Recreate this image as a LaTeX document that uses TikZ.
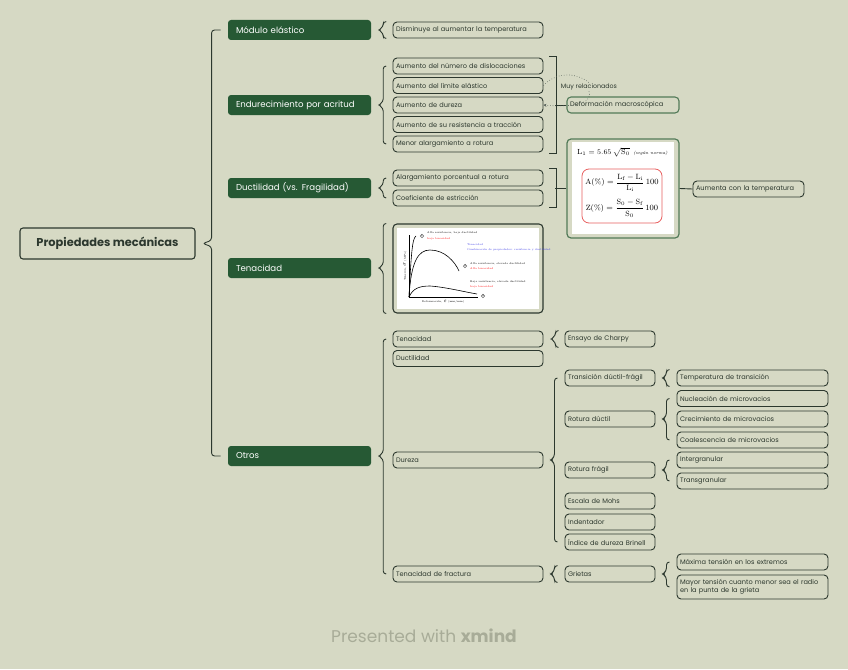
\documentclass[tikz,border=0pt]{standalone}
\usepackage{amsmath}
\usepackage{fontspec}
\newfontfamily\mmfont{Poppins}
\usepackage{tikz}
\usetikzlibrary{arrows.meta, positioning, calc}
\usepackage{xcolor}
\definecolor{bgsage}{RGB}{214,217,196}
\definecolor{topicgreen}{RGB}{38,89,52}
\definecolor{inkdark}{RGB}{44,56,46}
\definecolor{relgreen}{RGB}{82,122,88}
\definecolor{footgrey}{RGB}{168,172,152}
\definecolor{formred}{RGB}{232,96,96}
\definecolor{plotblue}{RGB}{60,60,230}

\tikzset{
  rootbox/.style={draw=inkdark, line width=1.1pt, rounded corners=3pt, fill=bgsage,
    minimum width=175pt, minimum height=31pt, text=inkdark,
    font=\mmfont\fontsize{11.4}{13}\selectfont\bfseries},
  topicbox/.style={fill=topicgreen, rounded corners=3pt, minimum height=20pt,
    text width=127pt, inner xsep=8pt, align=left, text=white,
    font=\mmfont\fontsize{8.6}{10}\selectfont},
  leafbox/.style={draw=inkdark, line width=0.9pt, rounded corners=4pt, fill=bgsage,
    minimum height=16pt, inner xsep=3pt, inner ysep=1.5pt, text width=#1,
    align=left, text=inkdark, font=\mmfont\fontsize{6.6}{8.2}\selectfont},
  leafbox/.default=144pt,
  brline/.style={draw=inkdark, line width=0.9pt, rounded corners=3pt},
  reldot/.style={draw=inkdark!80, line width=0.6pt, dotted},
  tinytext/.style={font=\fontsize{2.6}{3}\selectfont, inner sep=0pt, anchor=west},
}

% llave: padre, punto superior, punto inferior, ancho, remate
\newcommand{\mmbrace}[5]{%
  \draw[brline] let \p1=(#1.east), \p2=(#2), \p3=(#3) in
    (\x1+7pt+#4+#5,\y2) -- (\x1+7pt+#4,\y2) -- (\x1+7pt+#4,\y1+3pt)
    -- (\x1+7pt,\y1) -- (\x1+7pt+#4,\y1-3pt) -- (\x1+7pt+#4,\y3)
    -- (\x1+7pt+#4+#5,\y3);}
% corchete de resumen: primero, ultimo, destino
\newcommand{\mmsummary}[3]{%
  \draw[brline, rounded corners=0pt] let \p1=(#1.north east), \p2=(#2.south east) in
    (\x1+6pt,\y1+1pt) -- (\x1+13pt,\y1+1pt) -- (\x1+13pt,\y2-1pt) -- (\x1+6pt,\y2-1pt);
  \draw[brline] (#3.west) -- ++(-11,0);}

\begin{document}
\begin{tikzpicture}[x=1pt, y=-1pt, >=Stealth]
        % --- Fondo ---
        \fill[bgsage] (0,0) rectangle (848,669);

        % --- Raiz y ramas principales ---
        \node[rootbox] (root) at (107.5,243.5) {Propiedades mecánicas};
        \node[topicbox] (mod) at (299.5,30) {Módulo elástico};
        \node[topicbox] (endu) at (299.5,105) {Endurecimiento por acritud};
        \node[topicbox] (duct) at (299.5,188) {Ductilidad (vs. Fragilidad)};
        \node[topicbox] (tena) at (299.5,268) {Tenacidad};
        \node[topicbox] (otros) at (299.5,456) {Otros};
        \mmbrace{root}{mod.west}{otros.west}{9pt}{9pt}

        % Modulo elastico
        \node[leafbox] (dism) at (468,30) {Disminuye al aumentar la temperatura};
        \mmbrace{mod}{dism.north west}{dism.south west}{5pt}{3pt}

        % Endurecimiento
        \node[leafbox] (disl) at (468,66) {Aumento del número de dislocaciones};
        \node[leafbox] (lim) at (468,85.5) {Aumento del límite elástico};
        \node[leafbox] (dur) at (468,105) {Aumento de dureza};
        \node[leafbox] (res) at (468,124.5) {Aumento de su resistencia a tracción};
        \node[leafbox] (alar) at (468,144) {Menor alargamiento a rotura};
        \mmbrace{endu}{disl.west}{alar.west}{5pt}{3pt}
        \node[leafbox=106pt, draw=relgreen, line width=1.1pt] (defo) at (623,105)
            {Deformación macroscópica};
        \mmsummary{disl}{alar}{defo}

        % relacion entre limite elastico y dureza
        \node[font=\mmfont\fontsize{6.3}{7}\selectfont, text=inkdark, inner sep=1pt]
            (muy) at (589,87) {Muy relacionados};
        \draw[reldot] (lim.east) .. controls (556,72) and (576,72) .. (muy.north);
        \draw[reldot, -{Stealth[length=3pt,width=3pt]}] (muy.south)
            .. controls (594,106) and (565,107) .. (dur.east);

        % Ductilidad
        \node[leafbox] (apr) at (468,178) {Alargamiento porcentual a rotura};
        \node[leafbox] (coef) at (468,198) {Coeficiente de estricción};
        \mmbrace{duct}{apr.west}{coef.west}{5pt}{3pt}
        \node[draw=relgreen, line width=1.2pt, rounded corners=4pt, fill=bgsage,
            minimum width=112pt, minimum height=99pt] (form) at (623,188.5) {};
        \mmsummary{apr}{coef}{form}
        \fill[white] (572,142) rectangle (674,234);
        \draw[formred, line width=0.8pt, rounded corners=7pt] (582,169) rectangle (662,223);
        \node[anchor=west, font=\fontsize{7.4}{8}\selectfont, inner sep=0pt] at (577,152)
            {$\mathrm{L_1}=5.65\,\sqrt{\mathrm{S_0}}$\enspace
             {\fontsize{4.5}{5}\selectfont\itshape (según norma)}};
        \node[font=\fontsize{7.6}{8}\selectfont, inner sep=0pt] at (622,183)
            {$\mathrm{A}(\%)=\dfrac{\mathrm{L_f}-\mathrm{L_i}}{\mathrm{L_i}}\,100$};
        \node[font=\fontsize{7.6}{8}\selectfont, inner sep=0pt] at (622,208.5)
            {$\mathrm{Z}(\%)=\dfrac{\mathrm{S_0}-\mathrm{S_f}}{\mathrm{S_0}}\,100$};
        \node[leafbox=105pt] (aum) at (748.5,189) {Aumenta con la temperatura};
        \draw[brline] (form.east) -- (aum.west);

        % --- Tenacidad: curva tension-deformacion ---
        \node[draw=inkdark, line width=1.1pt, rounded corners=4pt, fill=bgsage,
            minimum width=150pt, minimum height=89pt] (img) at (468,268.5) {};
        \mmbrace{tena}{img.north west}{img.south west}{5pt}{3pt}
        \fill[white] (397,228) rectangle (539,309);
        \draw[line width=0.5pt] (409,235) -- (409,297) -- (478,297);
        \draw[line width=0.6pt] (409,297) .. controls (411,258) and (412,238) .. (416,236);
        \draw[line width=0.6pt] (409,297) .. controls (411,262) and (418,250) .. (430,250)
            .. controls (445,250) and (455,262) .. (459,271);
        \draw[line width=0.6pt] (409,297) .. controls (413,288) and (420,286) .. (430,286)
            .. controls (445,287) and (465,292) .. (477,294);
        \foreach \n/\p in {1/{(422,236)}, 2/{(465,266)}, 3/{(483,296)}}
            \node[circle, draw=black!60, fill=black!12, line width=0.3pt, inner sep=0.4pt,
                font=\fontsize{2.6}{3}\selectfont] at \p {\n};
        \node[tinytext] at (427,233) {Alta resistencia, baja ductilidad};
        \node[tinytext, red] at (427,238.5) {baja tenacidad};
        \node[tinytext, plotblue] at (467,244.5) {Tenacidad};
        \node[tinytext, plotblue] at (467,249.5)
            {Combinación de propiedades: resistencia y ductilidad};
        \node[tinytext] at (470,264) {Alta resistencia, elevada ductilidad};
        \node[tinytext, red] at (470,269) {Alta tenacidad};
        \node[tinytext] at (470,282) {Baja resistencia, elevada ductilidad};
        \node[tinytext, red] at (470,287) {baja tenacidad};
        \node[tinytext, anchor=center, rotate=90] at (405,266) {Tensión, $\sigma$ (MPa)};
        \node[tinytext, anchor=center] at (443,302) {Deformación, $\varepsilon$ (mm/mm)};

        % --- Otros ---
        \node[leafbox] (oten) at (468,339) {Tenacidad};
        \node[leafbox] (oduc) at (468,358.5) {Ductilidad};
        \node[leafbox] (odur) at (468,460) {Dureza};
        \node[leafbox] (ofrac) at (468,574) {Tenacidad de fractura};
        \mmbrace{otros}{oten.west}{ofrac.west}{5pt}{3pt}

        \node[leafbox=84pt] (charpy) at (610,339) {Ensayo de Charpy};
        \mmbrace{oten}{charpy.north west}{charpy.south west}{5pt}{3pt}

        % Dureza
        \node[leafbox=84pt] (trans) at (610,378) {Transición dúctil-frágil};
        \node[leafbox=84pt] (rduc) at (610,419) {Rotura dúctil};
        \node[leafbox=84pt] (rfra) at (610,470) {Rotura frágil};
        \node[leafbox=84pt] (mohs) at (610,501) {Escala de Mohs};
        \node[leafbox=84pt] (indent) at (610,522) {Indentador};
        \node[leafbox=84pt] (brin) at (610,542) {Índice de dureza Brinell};
        \mmbrace{odur}{trans.west}{brin.west}{4pt}{3pt}

        \node[leafbox=145pt] (ttrans) at (752.5,378) {Temperatura de transición};
        \mmbrace{trans}{ttrans.north west}{ttrans.south west}{4pt}{3pt}
        \node[leafbox=145pt] (nucl) at (752.5,398.5) {Nucleación de microvacios};
        \node[leafbox=145pt] (crec) at (752.5,419) {Crecimiento de microvacios};
        \node[leafbox=145pt] (coal) at (752.5,440) {Coalescencia de microvacios};
        \mmbrace{rduc}{nucl.west}{coal.west}{4pt}{3pt}
        \node[leafbox=145pt] (inter) at (752.5,460) {Intergranular};
        \node[leafbox=145pt] (transg) at (752.5,481) {Transgranular};
        \mmbrace{rfra}{inter.west}{transg.west}{4pt}{3pt}

        % Tenacidad de fractura
        \node[leafbox=84pt] (griet) at (610,574) {Grietas};
        \mmbrace{ofrac}{griet.north west}{griet.south west}{4pt}{3pt}
        \node[leafbox=145pt] (maxt) at (752.5,562) {Máxima tensión en los extremos};
        \node[leafbox=145pt, minimum height=24pt] (mayt) at (752.5,587)
            {Mayor tensión cuanto menor sea el radio\\en la punta de la grieta};
        \mmbrace{griet}{maxt.west}{mayt.west}{4pt}{3pt}

        % --- Pie ---
        \node[font=\mmfont\fontsize{17}{19}\selectfont, text=footgrey] (foot) at (424,636)
            {Presented with \textbf{xmind}};
    \end{tikzpicture}
\end{document}
